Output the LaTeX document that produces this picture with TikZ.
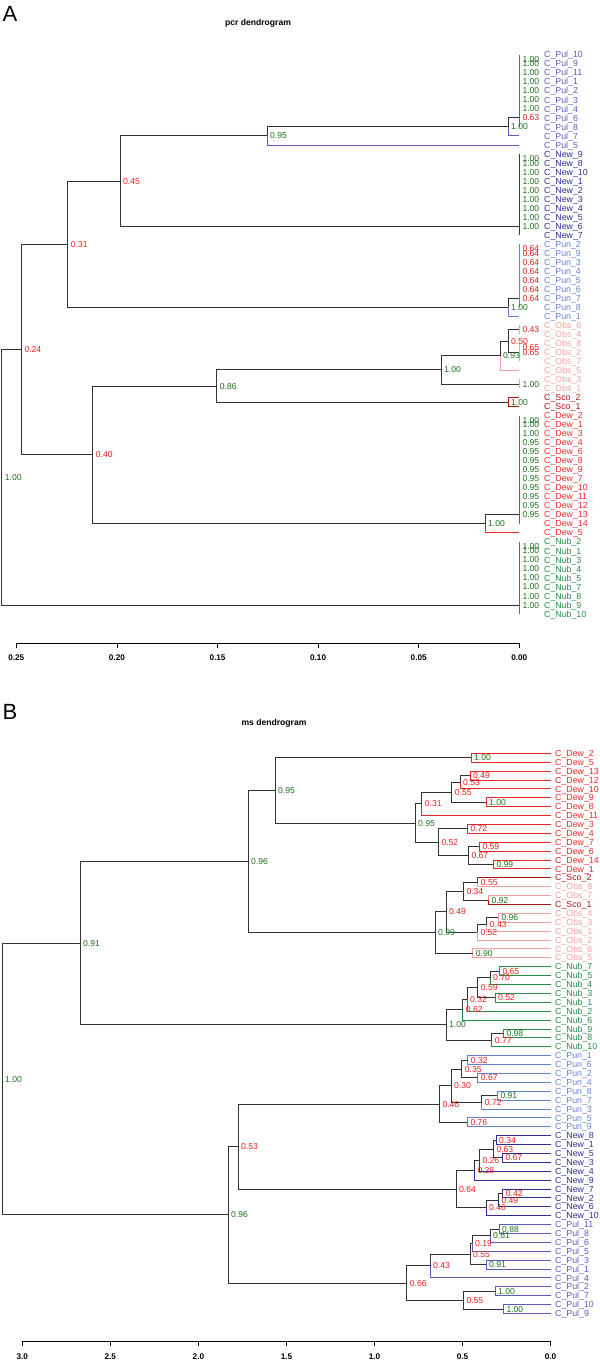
\documentclass[tikz,border=0pt]{standalone}
\usepackage{fontspec}
\setmainfont{Liberation Sans}
\usetikzlibrary{calc}

\definecolor{tree}{RGB}{50,50,50}
\definecolor{highboot}{RGB}{25,115,25}
\definecolor{lowboot}{RGB}{230,30,30}
\definecolor{Pul}{RGB}{90,90,190}
\definecolor{New}{RGB}{45,45,150}
\definecolor{Pun}{RGB}{100,130,210}
\definecolor{Obs}{RGB}{245,160,160}
\definecolor{Sco}{RGB}{170,20,20}
\definecolor{Dew}{RGB}{230,40,40}
\definecolor{Nub}{RGB}{35,140,70}

\tikzstyle{edge} = [line width=0.8pt]
\tikzstyle{leaf} = [anchor=base west, inner sep=0pt, yshift=-3.2pt, font=\fontsize{8.8}{9}\selectfont]
\tikzstyle{boot} = [anchor=base west, inner sep=0pt, xshift=3pt, yshift=-3.1pt, font=\fontsize{8.6}{9}\selectfont]
\tikzstyle{tick} = [inner sep=0pt, font=\bfseries\fontsize{8.2}{9}\selectfont]
\tikzstyle{panel} = [inner sep=0pt, font=\fontsize{22}{22}\selectfont]
\tikzstyle{title} = [inner sep=0pt, font=\bfseries\fontsize{8.6}{9}\selectfont]

% bootstrap value, green when >= 0.8
\newcommand{\bs}[2]{\ifdim#2pt<0.8pt\relax\node[boot,text=lowboot] at (#1) {#2};\else\node[boot,text=highboot] at (#1) {#2};\fi}
% join two children at x = #2
\newcommand{\mrg}[7]{%
  \coordinate (tmp) at ($(#3)!0.5!(#5)$);
  \coordinate (#1) at (#2,0 |- tmp);
  \draw[edge,draw=#4] (#1) |- (#3);
  \draw[edge,draw=#6] (#1) |- (#5);
  \bs{#1}{#7}}

\begin{document}
\begin{tikzpicture}[x=1pt, y=-1pt,
  declare function={ya(\r)=54.7+9.02*(\r-1); yb(\r)=753.3+8.89*(\r-1);}]
\useasboundingbox (0,0) rectangle (600,1361);

%%% A
\node[panel] (labA) at (10,14) {A};
\node[title] (titA) at (258,23) {pcr dendrogram};

\foreach \g/\k [count=\i] in {Pul/10,Pul/9,Pul/11,Pul/1,Pul/2,Pul/3,Pul/4,Pul/6,Pul/8,Pul/7,Pul/5,
  New/9,New/8,New/10,New/1,New/2,New/3,New/4,New/5,New/6,New/7,
  Pun/2,Pun/9,Pun/3,Pun/4,Pun/5,Pun/6,Pun/7,Pun/8,Pun/1,
  Obs/6,Obs/4,Obs/8,Obs/2,Obs/7,Obs/5,Obs/3,Obs/1,Sco/2,Sco/1,
  Dew/2,Dew/1,Dew/3,Dew/4,Dew/6,Dew/8,Dew/9,Dew/7,Dew/10,Dew/11,Dew/12,Dew/13,Dew/14,Dew/5,
  Nub/2,Nub/1,Nub/3,Nub/4,Nub/5,Nub/7,Nub/8,Nub/9,Nub/10}{
  \coordinate (a\i) at (519.3,{ya(\i)});
  \node[leaf,text=\g] (la\i) at (544,{ya(\i)}) {C\_\g\_\k};
}

\draw[edge,draw=Pul] (a1) -- (a9);
\draw[edge,draw=New] (a12) -- (a21);
\draw[edge,draw=Pun] (a22) -- (a29);
\draw[edge,draw=Obs] (a31) -- (a32);
\draw[edge,draw=Obs] (a33) -- (a35);
\draw[edge,draw=Obs] (a37) -- (a38);
\draw[edge,draw=Dew] (a41) -- (a53);
\draw[edge,draw=Nub] (a55) -- (a63);
\foreach \r/\v in {1.5/1.00,2/1.00,3/1.00,4/1.00,5/1.00,6/1.00,7/1.00,8/0.63,
  12.5/1.00,13/1.00,14/1.00,15/1.00,16/1.00,17/1.00,18/1.00,19/1.00,20/1.00,
  22.5/0.64,23/0.64,24/0.64,25/0.64,26/0.64,27/0.64,28/0.64,
  31.5/0.43,33.5/0.65,34/0.65,37.5/1.00,
  41.5/1.00,42/1.00,43/1.00,44/0.95,45/0.95,46/0.95,47/0.95,48/0.95,49/0.95,50/0.95,51/0.95,52/0.95,
  55.5/1.00,56/1.00,57/1.00,58/1.00,59/1.00,60/1.00,61/1.00,62/1.00}
  \bs{519.3,{ya(\r)}}{\v};

\coordinate (ao1) at ($(a31)!0.5!(a32)$);
\coordinate (ao4) at ($(a37)!0.5!(a38)$);
\mrg{ap1}{508}{a8}{tree}{a10}{Pul}{1.00}
\mrg{ap2}{267}{ap1}{tree}{a11}{Pul}{0.95}
\mrg{an1}{120}{ap2}{tree}{a20}{tree}{0.45}
\mrg{au1}{508}{a28}{tree}{a30}{Pun}{1.00}
\mrg{ax1}{67.7}{an1}{tree}{au1}{tree}{0.31}
\mrg{ao2}{508}{ao1}{tree}{a34}{tree}{0.50}
\mrg{ao3}{500}{ao2}{tree}{a36}{Obs}{0.93}
\mrg{ao5}{441}{ao3}{tree}{ao4}{tree}{1.00}
\mrg{as1}{508}{a39}{Sco}{a40}{Sco}{1.00}
\mrg{ax2}{216.7}{ao5}{tree}{as1}{tree}{0.86}
\mrg{ad1}{485}{a52}{tree}{a54}{Dew}{1.00}
\mrg{ax3}{92.7}{ax2}{tree}{ad1}{tree}{0.40}
\mrg{ax4}{21.3}{ax1}{tree}{ax3}{tree}{0.24}
\mrg{ax5}{1.7}{ax4}{tree}{a62}{tree}{1.00}

\draw[edge] (16.3,643) -- (519.3,643);
\foreach \t in {0.25,0.20,0.15,0.10,0.05,0.00}{
  \draw[edge] ({519.3-2012*\t},643) -- ({519.3-2012*\t},648);
  \node[tick] at ({519.3-2012*\t},658) {\t};
}

%%% B
\node[panel] (labB) at (10,712) {B};
\node[title] (titB) at (274,723) {ms dendrogram};

\foreach \g/\k [count=\i] in {Dew/2,Dew/5,Dew/13,Dew/12,Dew/10,Dew/9,Dew/8,Dew/11,Dew/3,Dew/4,Dew/7,Dew/6,Dew/14,Dew/1,
  Sco/2,Obs/8,Obs/7,Sco/1,Obs/4,Obs/3,Obs/1,Obs/2,Obs/6,Obs/5,
  Nub/7,Nub/5,Nub/4,Nub/3,Nub/1,Nub/2,Nub/6,Nub/9,Nub/8,Nub/10,
  Pun/1,Pun/6,Pun/2,Pun/4,Pun/8,Pun/7,Pun/3,Pun/5,Pun/9,
  New/8,New/1,New/5,New/3,New/4,New/9,New/7,New/2,New/6,New/10,
  Pul/11,Pul/8,Pul/6,Pul/5,Pul/3,Pul/1,Pul/4,Pul/2,Pul/7,Pul/10,Pul/9}{
  \coordinate (b\i) at (550.6,{yb(\i)});
  \node[leaf,text=\g] (lb\i) at (555,{yb(\i)}) {C\_\g\_\k};
}

\mrg{d1}{471}{b1}{Dew}{b2}{Dew}{1.00}
\mrg{d2}{470}{b3}{Dew}{b4}{Dew}{0.49}
\mrg{d3}{460}{d2}{tree}{b5}{Dew}{0.53}
\mrg{d4}{486}{b6}{Dew}{b7}{Dew}{1.00}
\mrg{d5}{451.7}{d3}{tree}{d4}{tree}{0.55}
\mrg{d6}{421.7}{d5}{tree}{b8}{Dew}{0.31}
\mrg{d7}{467.3}{b9}{Dew}{b10}{Dew}{0.72}
\mrg{d8}{479.3}{b11}{Dew}{b12}{Dew}{0.59}
\mrg{d9}{493.3}{b13}{Dew}{b14}{Dew}{0.99}
\mrg{d10}{468.3}{d8}{tree}{d9}{tree}{0.67}
\mrg{d11}{438.3}{d7}{tree}{d10}{tree}{0.52}
\mrg{d12}{415}{d6}{tree}{d11}{tree}{0.95}

\mrg{s1}{477.7}{b15}{Sco}{b16}{Obs}{0.55}
\mrg{s2}{488.3}{b17}{Obs}{b18}{Sco}{0.92}
\mrg{s3}{463.3}{s1}{tree}{s2}{tree}{0.34}
\mrg{o1}{498.3}{b19}{Obs}{b20}{Obs}{0.96}
\mrg{o2}{486.7}{o1}{tree}{b21}{Obs}{0.43}
\mrg{o3}{477.3}{o2}{tree}{b22}{Obs}{0.52}
\mrg{o4}{446}{s3}{tree}{o3}{tree}{0.49}
\mrg{o5}{472.7}{b23}{Obs}{b24}{Obs}{0.90}
\mrg{o6}{435}{o4}{tree}{o5}{tree}{0.99}

\mrg{n1}{499.3}{b25}{Nub}{b26}{Nub}{0.65}
\mrg{n2}{490}{n1}{tree}{b27}{Nub}{0.70}
\mrg{n3}{495}{b28}{Nub}{b29}{Nub}{0.52}
\mrg{n4}{477.7}{n2}{tree}{n3}{tree}{0.59}
\mrg{n5}{467}{n4}{tree}{b30}{Nub}{0.32}
\mrg{n6}{462.7}{n5}{tree}{b31}{Nub}{0.62}
\mrg{n7}{503.3}{b32}{Nub}{b33}{Nub}{0.98}
\mrg{n8}{491.7}{n7}{tree}{b34}{Nub}{0.77}
\mrg{n9}{446}{n6}{tree}{n8}{tree}{1.00}

\mrg{p1}{467.7}{b35}{Pun}{b36}{Pun}{0.32}
\mrg{p2}{477.7}{b37}{Pun}{b38}{Pun}{0.67}
\mrg{p3}{461.7}{p1}{tree}{p2}{tree}{0.35}
\mrg{p4}{497.3}{b39}{Pun}{b40}{Pun}{0.91}
\mrg{p5}{481.7}{p4}{tree}{b41}{Pun}{0.72}
\mrg{p6}{451}{p3}{tree}{p5}{tree}{0.30}
\mrg{p7}{467.3}{b42}{Pun}{b43}{Pun}{0.76}
\mrg{p8}{439.3}{p6}{tree}{p7}{tree}{0.46}

\mrg{w1}{496}{b44}{New}{b45}{New}{0.34}
\mrg{w2}{502.3}{b46}{New}{b47}{New}{0.67}
\mrg{w3}{493.3}{w1}{tree}{w2}{tree}{0.63}
\mrg{w4}{479.3}{w3}{tree}{b48}{New}{0.26}
\mrg{w5}{474.3}{w4}{tree}{b49}{New}{0.28}
\mrg{w6}{502.7}{b50}{New}{b51}{New}{0.42}
\mrg{w7}{498.3}{w6}{tree}{b52}{New}{0.49}
\mrg{w8}{486}{w7}{tree}{b53}{New}{0.46}
\mrg{w9}{456}{w5}{tree}{w8}{tree}{0.64}

\mrg{u1}{499}{b54}{Pul}{b55}{Pul}{0.88}
\mrg{u2}{490}{u1}{tree}{b56}{Pul}{0.81}
\mrg{u3}{472}{u2}{tree}{b57}{Pul}{0.19}
\mrg{u4}{486}{b58}{Pul}{b59}{Pul}{0.91}
\mrg{u5}{470}{u3}{tree}{u4}{tree}{0.55}
\mrg{u6}{430}{u5}{tree}{b60}{Pul}{0.43}
\mrg{u7}{495}{b61}{Pul}{b62}{Pul}{1.00}
\mrg{u8}{503.3}{b63}{Pul}{b64}{Pul}{1.00}
\mrg{u9}{463.3}{u7}{tree}{u8}{tree}{0.55}
\mrg{u10}{406.7}{u6}{tree}{u9}{tree}{0.66}

\mrg{t1}{275}{d1}{tree}{d12}{tree}{0.95}
\mrg{t2}{248}{t1}{tree}{o6}{tree}{0.96}
\mrg{t3}{80}{t2}{tree}{n9}{tree}{0.91}
\mrg{t4}{238}{p8}{tree}{w9}{tree}{0.53}
\mrg{t5}{228}{t4}{tree}{u10}{tree}{0.96}
\mrg{t6}{2}{t3}{tree}{t5}{tree}{1.00}

\draw[edge] (22.3,1341) -- (550.6,1341);
\foreach \t in {3.0,2.5,2.0,1.5,1.0,0.5,0.0}{
  \draw[edge] ({550.6-176.1*\t},1341) -- ({550.6-176.1*\t},1346);
  \node[tick] at ({550.6-176.1*\t},1357) {\t};
}
\end{tikzpicture}
\end{document}
